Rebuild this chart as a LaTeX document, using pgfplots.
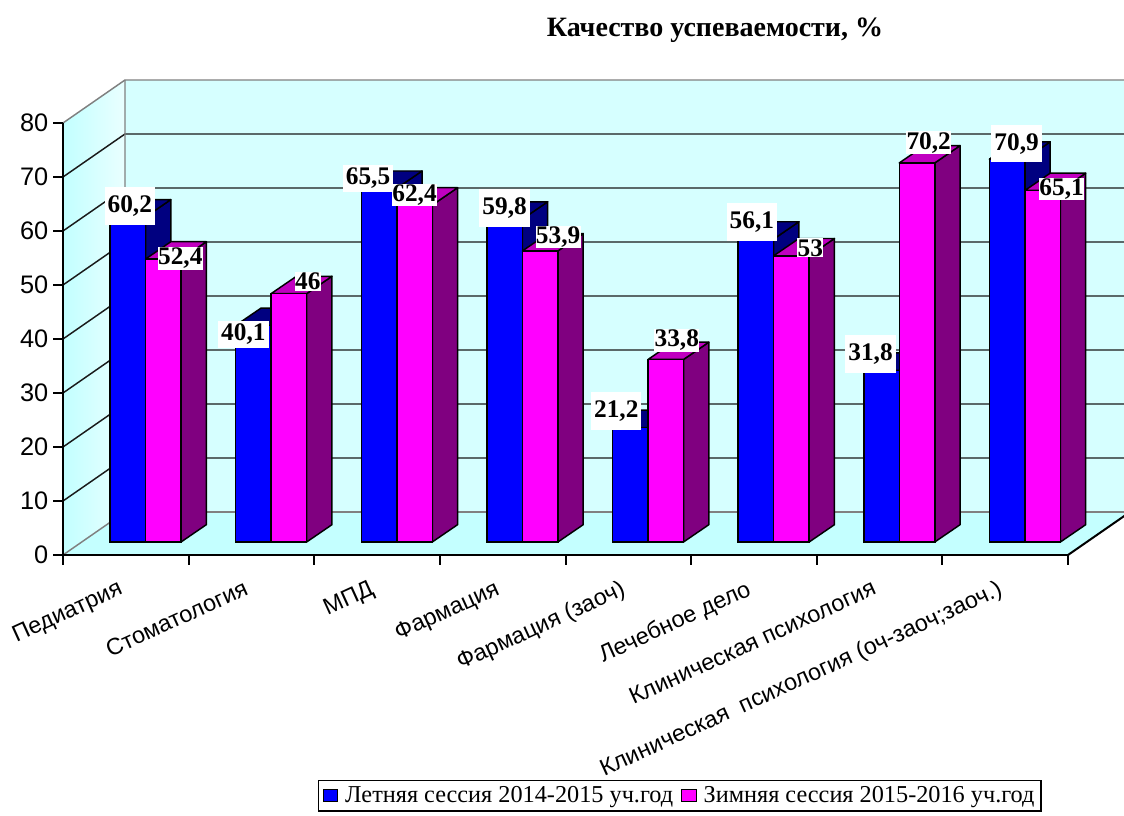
\documentclass[border=0pt]{standalone}
\usepackage{fontspec}
\setmainfont{Liberation Serif}
\newfontfamily\arialf{Liberation Sans}
\usepackage{graphicx}
\usepackage{pgfplots}
\usepackage{pgfplotstable}
\pgfplotsset{compat=1.18}
\definecolor{navyc}{HTML}{000080}
\definecolor{purpc}{HTML}{800080}
\definecolor{ptopc}{HTML}{C000C0}
\definecolor{pinkc}{HTML}{FF00FF}
\definecolor{bluec}{HTML}{0000FF}
\definecolor{bwall}{HTML}{D6FFFF}
\definecolor{floorc}{HTML}{C4FFFF}
\definecolor{lwallA}{HTML}{C2FFFF}
\definecolor{lwallB}{HTML}{EAFFFF}
\definecolor{edgec}{HTML}{808080}
\definecolor{gridc}{HTML}{1A1A1A}
\tikzset{bk/.style={shift={(46.5pt,32.25pt)}}}
\pgfplotsset{
 face/.style={draw=black, line width=1.1pt, line join=round, forget plot},
 sideB/.style={face, fill=navyc},
 topB/.style={face, fill=navyc},
 sideP/.style={face, fill=purpc},
 topP/.style={face, fill=ptopc},
 legsq/.style={legend image code/.code={\draw[##1, line width=0.6pt] (0pt,-4.5pt) rectangle (11pt,4.5pt); \path (14pt,0pt);}},
 vlab/.style={draw=none, mark=none, forget plot, point meta=explicit symbolic,
  visualization depends on={\thisrow{#1dx}\as\ldx},
  visualization depends on={\thisrow{#1dy}\as\ldy},
  nodes near coords,
  every node near coord/.append style={anchor=center, xshift={\ldx*0.75pt}, yshift={\ldy*0.75pt},
    fill=white, font=\bfseries\fontsize{19}{21}\selectfont}},
}
\pgfplotstableread{
i blue pink bdx bdy pdx pdy blab plab
0 60.2 52.4 2 11 17 0.7 60,2 52,4
1 40.1 46.0 -10 -9 19 12 40,1 46
2 65.5 62.4 -11 10 0 10 65,5 62,4
3 59.8 53.9 0 11 18 14 59,8 53,9
4 21.2 33.8 -14 16.7 11 19 21,2 33,8
5 56.1 53.0 -4 17 19 8 56,1 53
6 31.8 70.2 -11 16.5 11.7 20 31,8 70,2
7 70.9 65.1 9.5 15.5 19 1.4 70,9 65,1
}\data
\def\dX{0.2014}
\def\dY{3.204}
\def\bwu{0.2826}
\begin{document}
\begin{tikzpicture}
\path[use as bounding box] (0,0) rectangle (843pt,612pt);
% front frame axis
\begin{axis}[
  at={(47.25pt,195.75pt)}, anchor=south west, scale only axis,
  width=753.75pt, height=324pt,
  xmin=0, xmax=8, ymin=0, ymax=80,
  axis on top, clip=false,
  axis x line*=bottom, axis y line*=left,
  axis line style={line width=1.5pt, black},
  tick align=outside, major tick length=7.5pt,
  ytick={0,10,...,80},
  xtick={0.5,1.5,...,7.5},
  xticklabels={Педиатрия, Стоматология, МПД, Фармация, Фармация (заоч), Лечебное дело, Клиническая психология, Клиническая\ \ психология (оч-заоч;заоч.)},
  xtick style={draw=none},
  ytick style={black, line width=1.5pt},
  /pgf/number format/assume math mode=true,
  yticklabel style={font=\arialf\fontsize{19}{21}\selectfont, anchor=east},
  xticklabel style={font=\arialf\fontsize{17.5}{19}\selectfont, xshift=-6pt, yshift=-9pt, rotate=24.5, anchor=north east, inner sep=1pt},
]
\fill[bwall] ([bk]0,0) rectangle ([bk]8,80);
\fill[floorc] (0,0) -- (8,0) -- ([bk]8,0) -- ([bk]0,0) -- cycle;
\shade[left color=lwallA, right color=lwallB] (0,0) -- (0,80) -- ([bk]0,80) -- ([bk]0,0) -- cycle;
\pgfplotsinvokeforeach{10,20,...,70}{\draw[gridc, line width=1.1pt] (0,#1) -- ([bk]0,#1) -- ([bk]8,#1);}
\draw[edgec, line width=1.1pt] ([bk]0,0) -- ([bk]8,0);
\draw[edgec, line width=1.1pt] (0,0) -- ([bk]0,0) -- ([bk]0,80);
\draw[edgec, line width=1.1pt] (0,80) -- ([bk]0,80) -- ([bk]8,80);
\draw[black, line width=1.5pt] (8,0) -- ([bk]8,0);
\pgfplotsinvokeforeach{0,...,8}{\draw[black, line width=1.5pt] (#1,0) -- ++(0pt,-7.5pt);}
\end{axis}
% bars axis
\begin{axis}[
  at={(62.03pt,205.5pt)}, anchor=south west, scale only axis,
  width=753.75pt, height=324pt,
  xmin=0, xmax=8, ymin=0, ymax=80,
  hide axis, clip=false,
  legend columns=2, legend cell align=left,
  legend style={at={(0.2341,-0.5509)}, anchor=north west, draw=black, line width=1.1pt,
    inner xsep=3pt, inner ysep=2.5pt, font=\fontsize{18.2}{20}\selectfont,
    /tikz/every even column/.append style={column sep=4pt}},
]
\pgfplotsforeachungrouped \ri in {0,...,7}{%
  \pgfplotstablegetelem{\ri}{blue}\of\data
  \let\barv\pgfplotsretval
  \pgfmathsetmacro\xl{\ri+0.5-\bwu}%
  \pgfmathsetmacro\xr{\ri+0.5}%
  \pgfmathsetmacro\xld{\xl+\dX}%
  \pgfmathsetmacro\xrd{\xr+\dX}%
  \pgfmathsetmacro\vt{\barv+\dY}%
  \edef\tmp{\noexpand\addplot[sideB] coordinates {(\xr,0) (\xrd,\dY) (\xrd,\vt) (\xr,\barv)} -- cycle;
  \noexpand\addplot[topB] coordinates {(\xl,\barv) (\xr,\barv) (\xrd,\vt) (\xld,\vt)} -- cycle;}%
  \tmp
}
\addplot[ybar, bar width=26.625pt, bar shift=-13.3125pt, fill=bluec, draw=black, line width=1.1pt, legsq]
  table[x expr=\thisrow{i}+0.5, y=blue] {\data};
\addlegendentry{Летняя сессия 2014-2015 уч.год}
\pgfplotsforeachungrouped \ri in {0,...,7}{%
  \pgfplotstablegetelem{\ri}{pink}\of\data
  \let\barv\pgfplotsretval
  \pgfmathsetmacro\xl{\ri+0.5}%
  \pgfmathsetmacro\xr{\ri+0.5+\bwu}%
  \pgfmathsetmacro\xld{\xl+\dX}%
  \pgfmathsetmacro\xrd{\xr+\dX}%
  \pgfmathsetmacro\vt{\barv+\dY}%
  \edef\tmp{\noexpand\addplot[sideP] coordinates {(\xr,0) (\xrd,\dY) (\xrd,\vt) (\xr,\barv)} -- cycle;
  \noexpand\addplot[topP] coordinates {(\xl,\barv) (\xr,\barv) (\xrd,\vt) (\xld,\vt)} -- cycle;}%
  \tmp
}
\addplot[ybar, bar width=26.625pt, bar shift=13.3125pt, fill=pinkc, draw=black, line width=1.1pt, legsq]
  table[x expr=\thisrow{i}+0.5, y=pink] {\data};
\addlegendentry{Зимняя сессия 2015-2016 уч.год}
% value labels: blue, tall boxes
\addplot[vlab=b, skip coords between index={1}{3},
  every node near coord/.append style={inner xsep=2.25pt, inner ysep=6.3pt}]
  table[x expr=\thisrow{i}+0.5-0.1413, y=blue, meta=blab] {\data};
% value labels: blue, short boxes
\addplot[vlab=b, skip coords between index={0}{1}, skip coords between index={3}{8},
  every node near coord/.append style={inner xsep=2.25pt, inner ysep=2.3pt}]
  table[x expr=\thisrow{i}+0.5-0.1413, y=blue, meta=blab] {\data};
% value labels: pink
\addplot[vlab=p,
  every node near coord/.append style={inner xsep=0.3pt, inner ysep=0.8pt}]
  table[x expr=\thisrow{i}+0.5+0.1413, y=pink, meta=plab] {\data};
\end{axis}
\node[anchor=base, font=\bfseries\fontsize{21}{23}\selectfont] at (536.25pt,584.8pt) {Качество успеваемости, \%};
\end{tikzpicture}
\end{document}
